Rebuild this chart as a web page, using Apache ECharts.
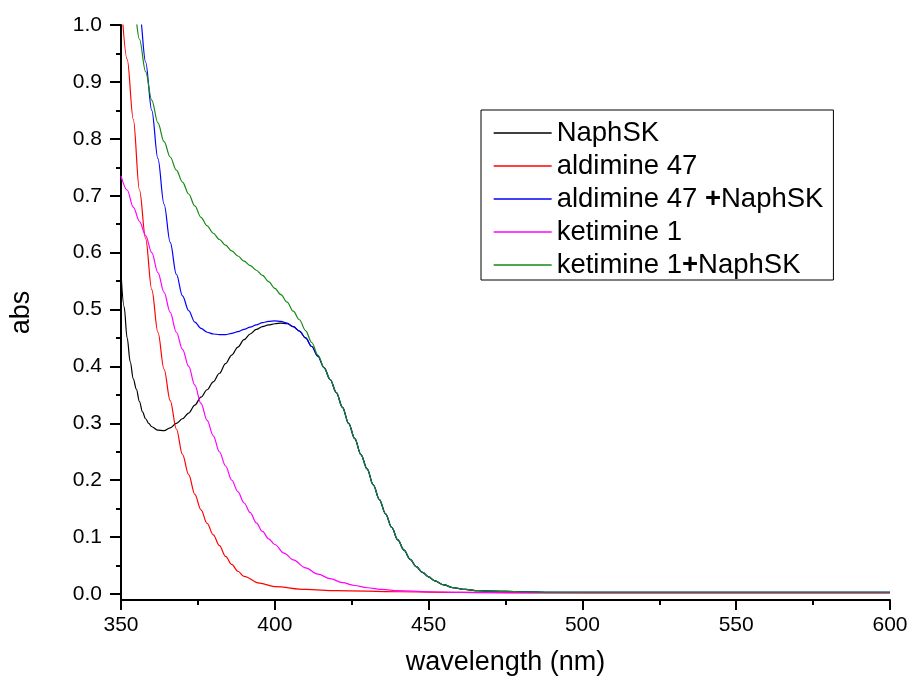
<!DOCTYPE html>
<html>
<head>
<meta charset="utf-8">
<script src="https://cdn.jsdelivr.net/npm/echarts@6/dist/echarts.min.js"></script>
<style>
  html, body { margin: 0; padding: 0; background: #fff; }
  #chart { width: 912px; height: 684px; }
</style>
</head>
<body>
<div id="chart"></div>
<script>
// UV-vis absorption spectra (absorbance vs wavelength, nm)

// NaphSK alone
const naphWl  = [350, 351, 352, 353, 354, 355, 356, 357, 358, 359, 360, 362, 364, 366, 368, 370, 372, 374, 376, 378,
                 380, 382, 384, 386, 388, 390, 392, 394, 396, 398, 400, 402, 404, 406, 408, 410, 412, 414];
const naphAbs = [0.565, 0.505, 0.45, 0.408, 0.378, 0.36, 0.338, 0.32, 0.308, 0.30, 0.294, 0.288, 0.287, 0.292, 0.30, 0.308, 0.318, 0.332, 0.346, 0.359,
                 0.373, 0.388, 0.405, 0.42, 0.434, 0.447, 0.457, 0.465, 0.47, 0.473, 0.475, 0.476, 0.475, 0.47, 0.462, 0.450, 0.435, 0.418];

// aldimine 47
const aldWl  = [350, 352, 354, 356, 358, 360, 362, 364, 366, 368, 370, 372, 374, 376, 378, 380, 382, 384, 386, 388,
                390, 395, 400, 410, 420, 440, 460, 500, 600];
const aldAbs = [1.05, 0.94, 0.834, 0.71, 0.625, 0.535, 0.46, 0.395, 0.34, 0.29, 0.245, 0.21, 0.175, 0.148, 0.124, 0.104, 0.085, 0.066, 0.052, 0.040,
                0.031, 0.019, 0.013, 0.008, 0.006, 0.004, 0.003, 0.002, 0.002];

// aldimine 47 + NaphSK
const aldNaphWl  = [350, 352, 354, 356, 358, 360, 362, 364, 366, 368, 370, 372, 374, 376, 378, 380, 382, 384, 386, 388,
                    390, 392, 394, 396, 398, 400, 402, 404, 406, 408, 410, 412, 414];
const aldNaphAbs = [1.30, 1.20, 1.11, 1.025, 0.935, 0.85, 0.765, 0.685, 0.618, 0.562, 0.524, 0.498, 0.478, 0.467, 0.46, 0.457, 0.456, 0.456, 0.458, 0.461,
                    0.465, 0.469, 0.473, 0.477, 0.479, 0.480, 0.479, 0.476, 0.470, 0.462, 0.450, 0.435, 0.418];

// ketimine 1
const ketWl  = [350, 352, 354, 356, 358, 360, 362, 364, 366, 368, 370, 372, 374, 376, 378, 380, 382, 384, 386, 388,
                390, 392, 394, 396, 398, 400, 403, 406, 410, 414, 418, 422, 426, 430, 435, 440, 450, 460, 480, 600];
const ketAbs = [0.735, 0.71, 0.68, 0.655, 0.63, 0.60, 0.565, 0.53, 0.495, 0.46, 0.43, 0.40, 0.367, 0.335, 0.305, 0.278, 0.25, 0.225, 0.20, 0.18,
                0.16, 0.143, 0.125, 0.110, 0.097, 0.087, 0.072, 0.060, 0.046, 0.035, 0.027, 0.020, 0.015, 0.011, 0.008, 0.006, 0.004, 0.003, 0.002, 0.002];

// ketimine 1 + NaphSK
const ketNaphWl  = [350, 352, 354, 356, 358, 360, 362, 364, 366, 368, 370, 372, 374, 376, 378, 380, 382, 384, 386, 388,
                    390, 392, 394, 396, 398, 400, 402, 404, 406, 408, 410, 412, 414];
const ketNaphAbs = [1.22, 1.12, 1.04, 0.975, 0.918, 0.868, 0.828, 0.795, 0.768, 0.745, 0.724, 0.703, 0.682, 0.662, 0.647, 0.634, 0.623, 0.613, 0.603, 0.594,
                    0.585, 0.577, 0.569, 0.560, 0.549, 0.537, 0.526, 0.513, 0.497, 0.482, 0.463, 0.442, 0.420];

// Beyond ~414 nm the three NaphSK-containing spectra coincide (NaphSK band edge)
const bandWl  = [416, 418, 420, 422, 424, 426, 428, 430, 432, 434, 436, 438, 440, 442, 444, 446, 448, 450, 452, 455,
                 458, 462, 466, 470, 480, 490, 500, 520, 540, 560, 580, 600];
const bandAbs = [0.398, 0.377, 0.354, 0.328, 0.300, 0.273, 0.245, 0.220, 0.192, 0.166, 0.141, 0.117, 0.095, 0.077, 0.061, 0.048, 0.038, 0.030, 0.023, 0.016,
                 0.011, 0.008, 0.006, 0.005, 0.004, 0.003, 0.003, 0.003, 0.003, 0.003, 0.003, 0.003];

const seriesNames  = ['NaphSK', 'aldimine 47', 'aldimine 47 +NaphSK', 'ketimine 1', 'ketimine 1+NaphSK'];
const seriesColors = ['#000000', '#ff0000', '#0000ff', '#ff00ff', '#138a13'];

const yMajorTicks = [0.0, 0.1, 0.2, 0.3, 0.4, 0.5, 0.6, 0.7, 0.8, 0.9, 1.0];
const yMinorTicks = [0.05, 0.15, 0.25, 0.35, 0.45, 0.55, 0.65, 0.75, 0.85, 0.95];

const FONT = '"Liberation Sans", Arial, Helvetica, sans-serif';

const zip = (xs, ys) => xs.map((x, i) => [x, ys[i]]);

const curves = [
  zip(naphWl, naphAbs).concat(zip(bandWl, bandAbs)),
  zip(aldWl, aldAbs),
  zip(aldNaphWl, aldNaphAbs).concat(zip(bandWl, bandAbs)),
  zip(ketWl, ketAbs),
  zip(ketNaphWl, ketNaphAbs).concat(zip(bandWl, bandAbs))
];

const chart = echarts.init(document.getElementById('chart'), null, { renderer: 'canvas' });

chart.setOption({
  animation: false,
  backgroundColor: '#ffffff',
  textStyle: { fontFamily: FONT },
  grid: { left: 119, right: 22, top: 25, bottom: 84 },
  legend: {
    orient: 'vertical',
    left: 481,
    top: 110,
    padding: [9, 10, 1, 12],
    itemWidth: 58,
    itemHeight: 14,
    itemGap: 5,
    borderColor: '#000',
    borderWidth: 1,
    backgroundColor: '#fff',
    itemStyle: { opacity: 0, color: 'transparent', borderColor: 'transparent', borderWidth: 0 },
    lineStyle: { width: 1.3 },
    data: seriesNames,
    formatter: name => name.replace('+', '{b|+}'),
    textStyle: {
      fontFamily: FONT,
      fontSize: 27.5,
      lineHeight: 27,
      color: '#000',
      rich: { b: { fontFamily: FONT, fontSize: 27.5, lineHeight: 27, fontWeight: 'bold', color: '#000' } }
    }
  },
  xAxis: {
    type: 'value',
    min: 350,
    max: 600,
    interval: 50,
    name: 'wavelength (nm)',
    nameLocation: 'middle',
    nameGap: 49,
    nameTextStyle: { fontFamily: FONT, fontSize: 27, color: '#000' },
    axisLine: { onZero: false, lineStyle: { color: '#000', width: 2 } },
    axisTick: { inside: false, length: 10, lineStyle: { color: '#000', width: 2 } },
    minorTick: { show: true, splitNumber: 2, length: 5, lineStyle: { color: '#000', width: 2 } },
    axisLabel: { fontFamily: FONT, fontSize: 21, color: '#000', margin: 15 },
    splitLine: { show: false },
    minorSplitLine: { show: false }
  },
  yAxis: [
    {
      type: 'value',
      min: -0.0105,
      max: 1.0,
      name: 'abs',
      nameLocation: 'middle',
      nameGap: 86,
      nameTextStyle: { fontFamily: FONT, fontSize: 27, color: '#000' },
      axisLine: { onZero: false, lineStyle: { color: '#000', width: 2 } },
      axisTick: { inside: false, length: 11, customValues: yMajorTicks, lineStyle: { color: '#000', width: 2 } },
      axisLabel: {
        fontFamily: FONT, fontSize: 21, color: '#000', margin: 19,
        customValues: yMajorTicks,
        formatter: v => v.toFixed(1)
      },
      splitLine: { show: false }
    },
    {
      type: 'value',
      min: -0.0105,
      max: 1.0,
      position: 'left',
      axisLine: { show: false },
      axisTick: { show: true, inside: false, length: 5, customValues: yMinorTicks, lineStyle: { color: '#000', width: 2 } },
      axisLabel: { show: false },
      splitLine: { show: false }
    }
  ],
  series: seriesNames.map((name, i) => ({
    name: name,
    type: 'line',
    xAxisIndex: 0,
    yAxisIndex: 0,
    data: curves[i],
    symbol: 'none',
    showSymbol: false,
    smooth: 0.35,
    smoothMonotone: 'x',
    clip: true,
    color: seriesColors[i],
    lineStyle: { color: seriesColors[i], width: 1.2 },
    emphasis: { disabled: true }
  }))
});
</script>
</body>
</html>
